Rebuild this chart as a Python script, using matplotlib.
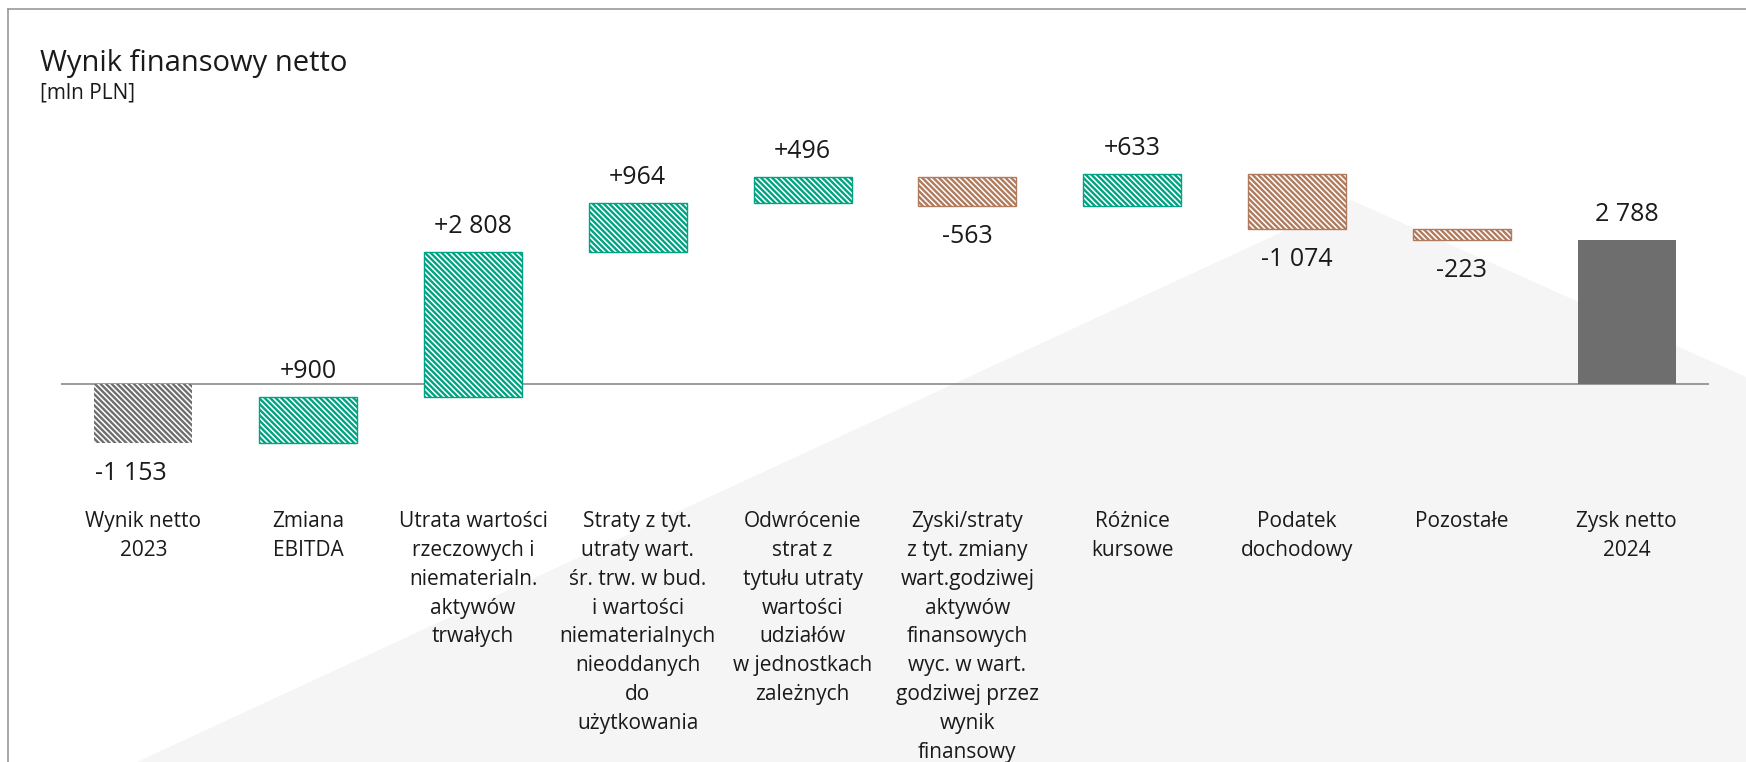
import numpy as np
import matplotlib
matplotlib.use("Agg")
import matplotlib.pyplot as plt
from matplotlib import transforms
from matplotlib.patches import Polygon
from matplotlib.lines import Line2D

plt.rcParams['font.family'] = ['Open Sans', 'DejaVu Sans']
plt.rcParams['hatch.linewidth'] = 1.7

# Waterfall data [mln PLN]
categories = [
    "Wynik netto\n2023",
    "Zmiana\nEBITDA",
    "Utrata wartości\nrzeczowych i\nniematerialn.\naktywów\ntrwałych",
    "Straty z tyt.\nutraty wart.\nśr. trw. w bud.\ni wartości\nniematerialnych\nnieoddanych\ndo\nużytkowania",
    "Odwrócenie\nstrat z\ntytułu utraty\nwartości\nudziałów\nw jednostkach\nzależnych",
    "Zyski/straty\nz tyt. zmiany\nwart.godziwej\naktywów\nfinansowych\nwyc. w wart.\ngodziwej przez\nwynik\nfinansowy",
    "Różnice\nkursowe",
    "Podatek\ndochodowy",
    "Pozostałe",
    "Zysk netto\n2024",
]
values = [-1153, 900, 2808, 964, 496, -563, 633, -1074, -223, 2788]
kinds = ["start", "delta", "delta", "delta", "delta", "delta", "delta", "delta", "delta", "total"]

GREEN = "#00A383"
BROWN = "#B07A5C"
GREY = "#6E6E6E"
TEXT = "#1a1a1a"
HATCH = "\\" * 6

W, H = 1746, 762
fig = plt.figure(figsize=(W / 100, H / 100), dpi=100)

# light background shape and frame
bg = Polygon([(137 / W, 0), (1351 / W, 1 - 200 / H), (1, 1 - 377 / H), (1, 0)],
             closed=True, transform=fig.transFigure, facecolor="#F5F5F5",
             edgecolor="none", zorder=-1)
fig.patches.append(bg)
fig.lines.append(Line2D([8 / W, 1], [1 - 9 / H, 1 - 9 / H], transform=fig.transFigure,
                        color="#9a9a9a", lw=1.2))
fig.lines.append(Line2D([8 / W, 8 / W], [0, 1 - 9 / H], transform=fig.transFigure,
                        color="#9a9a9a", lw=1.2))

ax = fig.add_axes([61 / W, 1 - 500 / H, 1648 / W, 370 / H])
ax.patch.set_alpha(0)
for s in ax.spines.values():
    s.set_visible(False)
ax.set_xticks([])
ax.set_yticks([])
ax.set_xlim(-0.5, len(values) - 0.5)
ax.set_ylim(-2252, 4932)


def fmt(v, sign):
    s = f"{abs(v):,}".replace(",", " ")
    if v < 0:
        return "-" + s
    return ("+" + s) if sign else s


running = 0
for i, (v, kind) in enumerate(zip(values, kinds)):
    dx = 0
    if kind == "start":
        bottom = 0
        ax.bar(i, v, bottom=bottom, width=0.595, facecolor="white",
               edgecolor=GREY, hatch=HATCH, lw=0, zorder=2)
        running = v
        label = fmt(v, False)
        dx = -9
    elif kind == "total":
        bottom = 0
        ax.bar(i, v, bottom=bottom, width=0.595, color=GREY, lw=0, zorder=2)
        label = fmt(v, False)
    else:
        bottom = running
        col = GREEN if v > 0 else BROWN
        ax.bar(i, v, bottom=bottom, width=0.595, facecolor="white",
               edgecolor=col, hatch=HATCH, lw=1, zorder=2)
        running += v
        label = fmt(v, True)

    top = max(bottom, bottom + v)
    low = min(bottom, bottom + v)
    if v > 0:
        ax.annotate(label, (i, top), xytext=(dx, 13.7), textcoords="offset points",
                    ha="center", va="baseline", fontsize=18, color=TEXT)
    else:
        ax.annotate(label, (i, low), xytext=(dx, -26.6), textcoords="offset points",
                    ha="center", va="baseline", fontsize=18, color=TEXT)

ax.axhline(0, color="#808080", lw=1.1, zorder=1)

# category labels under the chart
trans = transforms.blended_transform_factory(ax.transData, fig.transFigure)
for i, cat in enumerate(categories):
    ax.text(i, 1 - 511 / H, cat, transform=trans, ha="center", va="top",
            fontsize=15, color=TEXT, linespacing=1.49, multialignment="center")

fig.text(40 / W, 1 - 71 / H, "Wynik finansowy netto", fontsize=21, color=TEXT,
         va="baseline", ha="left")
fig.text(40 / W, 1 - 98 / H, "[mln PLN]", fontsize=15, color=TEXT,
         va="baseline", ha="left")

fig.savefig("out.png", dpi=100)
